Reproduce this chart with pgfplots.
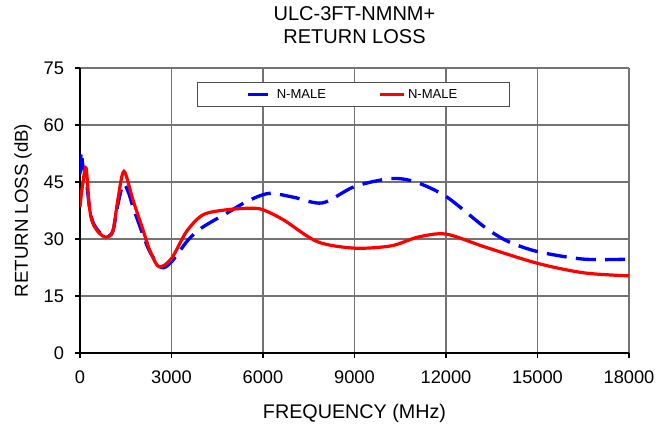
\documentclass[border=0pt]{standalone}
\usepackage{pgfplots}
\pgfplotsset{compat=1.18}
\usepackage{fontspec}
\setmainfont{Liberation Sans}
\begin{document}
\begin{tikzpicture}
\useasboundingbox (-60pt,-54.75pt) rectangle (442.5pt,264.75pt);
\begin{axis}[
  scale only axis,
  width=411.75pt, height=213.75pt,
  xmin=0, xmax=18000, ymin=0, ymax=75,
  xtick={0,3000,...,18000}, ytick={0,15,...,75},
  scaled x ticks=false,
  /pgf/number format/1000 sep={},
  /pgf/number format/assume math mode=true,
  axis x line*=bottom, axis y line*=left,
  axis line style={black, line width=1pt},
  tick align=outside, major tick length=3.75pt,
  tick style={black, line width=1pt},
  grid=major,
  major grid style={black!55, line width=1.1pt},
  ticklabel style={font=\fontsize{13.7pt}{15pt}\selectfont},
  yticklabel style={inner sep=0pt, xshift=-8pt},
  xticklabel style={inner sep=0pt, yshift=-9pt},
  xlabel={FREQUENCY (MHz)},
  ylabel={RETURN LOSS (dB)},
  xlabel style={at={(axis description cs:0.5,-0.2105)}, anchor=center, font=\fontsize{14.8pt}{16pt}\selectfont},
  ylabel style={at={(axis description cs:-0.1038,0.5)}, anchor=center, font=\fontsize{14pt}{16pt}\selectfont},
  title={ULC-3FT-NMNM+\\RETURN LOSS},
  title style={at={(axis description cs:0.5,1.121)}, anchor=center, align=center, font=\fontsize{15pt}{17.25pt}\selectfont},
  legend columns=2,
  legend style={at={(axis description cs:0.498,0.907)}, anchor=center,
    draw=black!70, line width=0.8pt, fill=white, inner xsep=37pt, inner ysep=3pt,
    font=\fontsize{9.8pt}{11pt}\selectfont,
    /tikz/every even column/.append style={column sep=37pt}},
  legend image code/.code={\draw[#1] (0pt,0pt) -- (18pt,0pt);},
]
\addplot[blue, line width=2.5pt, dash pattern=on 15pt off 7pt, smooth, tension=0.5] coordinates {
(0,47) (40,53) (90,49.5) (200,46) (300,39) (420,34.5) (636,31.8) (857,30.6)
(1075,32) (1240,39) (1420,44.5) (1600,42) (1735,38.5) (2065,31.1) (2300,26.5)
(2670,22.5) (3000,24.0) (3550,29.8) (4000,33) (4810,36.8) (5500,40) (6200,42)
(7000,41) (7950,39.5) (9000,43.8) (10200,45.9) (11000,45) (12000,41.2)
(13240,33.3) (14000,29.5) (15000,26.7) (16520,24.7) (18000,24.7)
};
\addlegendentry{N-MALE}
\addplot[red, line width=2.4pt, smooth, tension=0.5] coordinates {
(0,38.5) (80,44) (198,48.7) (307,38.5) (417,34.2) (636,31.5) (857,30.5)
(1075,32) (1240,40.3) (1440,47.8) (1735,40.3) (2065,32.4) (2285,27.1)
(2590,22.7) (3000,24.9) (3495,32) (4040,36.4) (4810,37.7) (5580,38.1)
(6000,37.7) (6680,35.0) (7780,29.3) (9000,27.6) (10200,28.2) (11080,30.5)
(12000,31.3) (13240,28.0) (15000,23.6) (16520,21.1) (18000,20.3)
};
\addlegendentry{N-MALE}
\end{axis}
\end{tikzpicture}
\end{document}
